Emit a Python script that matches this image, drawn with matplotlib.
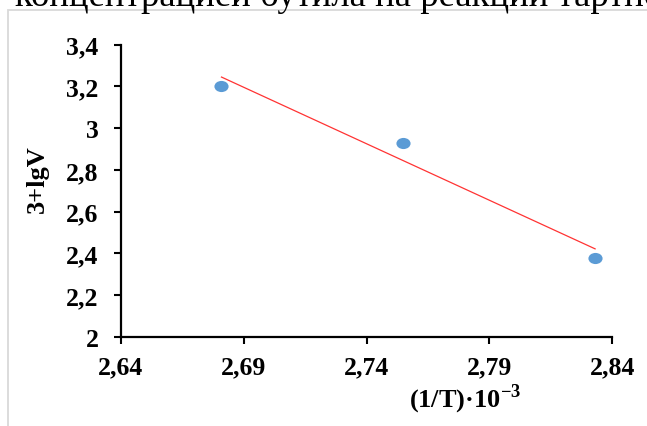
import numpy as np
import matplotlib
matplotlib.use("Agg")
import matplotlib.pyplot as plt
from matplotlib.path import Path
from matplotlib.patches import Rectangle

# Data
x_vals = [2.681, 2.755, 2.833]
y_vals = [3.20, 2.93, 2.38]
x_ticks = [2.64, 2.69, 2.74, 2.79, 2.84]
x_tick_labels = ["2,64", "2,69", "2,74", "2,79", "2,84"]
y_ticks = [2.0, 2.2, 2.4, 2.6, 2.8, 3.0, 3.2, 3.4]
y_tick_labels = ["2", "2,2", "2,4", "2,6", "2,8", "3", "3,2", "3,4"]
x_label = "(1/T)·10$^{\\mathbf{-3}}$"
y_label = "3+lgV"
top_text = "концентрацией бутила на реакции тартно"

plt.rcParams['font.family'] = ['Liberation Serif', 'DejaVu Serif']
plt.rcParams['mathtext.fontset'] = 'custom'
plt.rcParams['mathtext.rm'] = 'Liberation Serif'
plt.rcParams['mathtext.bf'] = 'Liberation Serif:bold'

fig = plt.figure(figsize=(6.47, 4.27), dpi=100)
fig.patch.set_facecolor('white')

# Border box (cropped frame of the chart object)
fig.patches.append(Rectangle((8/647, -0.2), 1.2, 1.2 - 11/427,
                             transform=fig.transFigure, fill=False,
                             edgecolor='#D9D9D9', linewidth=1.3))

# Clipped text of the document above the chart
fig.text(15/647, 1 - 6/427, top_text, fontsize=26.5, va='baseline', ha='left',
         family='Liberation Serif', color='black')

ax = fig.add_axes([120.7/647, 1 - 338/427, (612.3 - 120.7)/647, (338 - 45.5)/427])
ax.set_xlim(2.64, 2.84)
ax.set_ylim(2.0, 3.4)

# Trend line (least squares)
coef = np.polyfit(x_vals, y_vals, 1)
xl = np.array([min(x_vals), max(x_vals)])
ax.plot(xl, np.polyval(coef, xl), color='#FF3333', linewidth=0.9, zorder=2)

# Slightly elliptical markers
circ = Path.unit_circle()
ell = Path(circ.vertices * np.array([1.27, 1.0]), circ.codes)
ax.plot(x_vals, y_vals, linestyle='none', marker=ell, markersize=10.2,
        color='#5B9BD5', markeredgewidth=0, zorder=3)

ax.set_xticks(x_ticks)
ax.set_xticklabels(x_tick_labels, fontsize=18.5, fontweight='bold')
ax.set_yticks(y_ticks)
ax.set_yticklabels(y_tick_labels, fontsize=18.5, fontweight='bold')
ax.tick_params(axis='both', direction='out', length=5, width=1.5, color='black')
ax.tick_params(axis='x', pad=8)
ax.tick_params(axis='y', pad=11)

for s in ['top', 'right']:
    ax.spines[s].set_visible(False)
for s in ['left', 'bottom']:
    ax.spines[s].set_linewidth(1.6)
    ax.spines[s].set_color('black')

ax.text((465 - 120.7)/491.6, -(399 - 338)/292.5, x_label, transform=ax.transAxes,
        fontsize=19, fontweight='bold', ha='center', va='center')
ax.text(-(120.7 - 37)/491.6, (338 - 179)/292.5, y_label, transform=ax.transAxes,
        fontsize=19, fontweight='bold', ha='center', va='center', rotation=90)

fig.savefig('out.png', dpi=100)
